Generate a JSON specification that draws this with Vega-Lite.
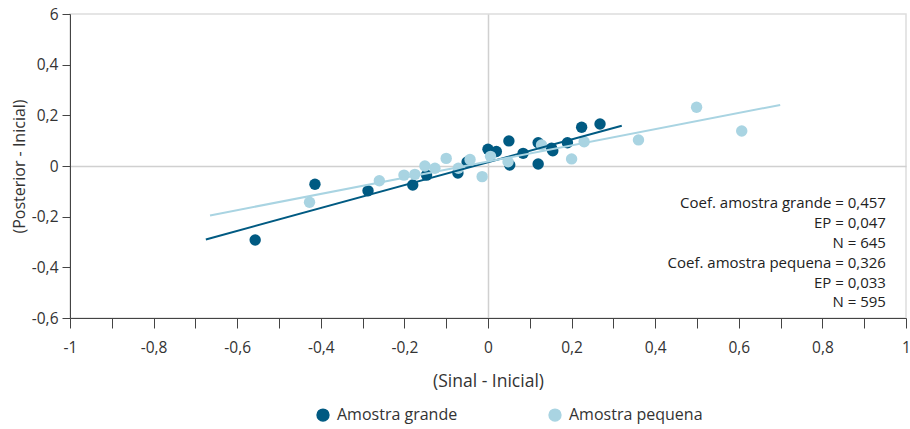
{
  "$schema": "https://vega.github.io/schema/vega-lite/v6.json",
  "width": 836,
  "height": 304,
  "autosize": {"type": "none"},
  "padding": {"left": 70, "top": 14, "right": 4, "bottom": 111},
  "config": {
    "font": "Open Sans",
    "view": {"stroke": "#dddddd", "strokeWidth": 1.5},
    "axis": {
      "domainColor": "#444444",
      "tickColor": "#444444",
      "labelColor": "#333333",
      "titleColor": "#333333",
      "labelFontSize": 15.5,
      "titleFontSize": 16,
      "titleFontWeight": "normal",
      "gridColor": "#d0d0d0",
      "gridWidth": 1.5
    }
  },
  "datasets": {
    "pts": [
      {"x": -0.557, "y": -0.292, "g": "Amostra grande"},
      {"x": -0.414, "y": -0.072, "g": "Amostra grande"},
      {"x": -0.287, "y": -0.098, "g": "Amostra grande"},
      {"x": -0.18, "y": -0.075, "g": "Amostra grande"},
      {"x": -0.147, "y": -0.036, "g": "Amostra grande"},
      {"x": -0.072, "y": -0.028, "g": "Amostra grande"},
      {"x": -0.05, "y": 0.016, "g": "Amostra grande"},
      {"x": 0.0, "y": 0.066, "g": "Amostra grande"},
      {"x": 0.02, "y": 0.057, "g": "Amostra grande"},
      {"x": 0.05, "y": 0.099, "g": "Amostra grande"},
      {"x": 0.052, "y": 0.004, "g": "Amostra grande"},
      {"x": 0.084, "y": 0.05, "g": "Amostra grande"},
      {"x": 0.12, "y": 0.092, "g": "Amostra grande"},
      {"x": 0.12, "y": 0.008, "g": "Amostra grande"},
      {"x": 0.152, "y": 0.07, "g": "Amostra grande"},
      {"x": 0.155, "y": 0.06, "g": "Amostra grande"},
      {"x": 0.19, "y": 0.092, "g": "Amostra grande"},
      {"x": 0.224, "y": 0.153, "g": "Amostra grande"},
      {"x": 0.268, "y": 0.166, "g": "Amostra grande"},
      {"x": -0.427, "y": -0.143, "g": "Amostra pequena"},
      {"x": -0.26, "y": -0.058, "g": "Amostra pequena"},
      {"x": -0.201, "y": -0.036, "g": "Amostra pequena"},
      {"x": -0.175, "y": -0.033, "g": "Amostra pequena"},
      {"x": -0.151, "y": 0.0, "g": "Amostra pequena"},
      {"x": -0.127, "y": -0.009, "g": "Amostra pequena"},
      {"x": -0.1, "y": 0.03, "g": "Amostra pequena"},
      {"x": -0.071, "y": -0.009, "g": "Amostra pequena"},
      {"x": -0.043, "y": 0.026, "g": "Amostra pequena"},
      {"x": -0.014, "y": -0.042, "g": "Amostra pequena"},
      {"x": 0.006, "y": 0.038, "g": "Amostra pequena"},
      {"x": 0.048, "y": 0.017, "g": "Amostra pequena"},
      {"x": 0.128, "y": 0.083, "g": "Amostra pequena"},
      {"x": 0.2, "y": 0.028, "g": "Amostra pequena"},
      {"x": 0.23, "y": 0.096, "g": "Amostra pequena"},
      {"x": 0.36, "y": 0.103, "g": "Amostra pequena"},
      {"x": 0.499, "y": 0.232, "g": "Amostra pequena"},
      {"x": 0.607, "y": 0.138, "g": "Amostra pequena"}
    ],
    "fit": [
      {"x": -0.675, "y": -0.29, "g": "Amostra grande"},
      {"x": 0.32, "y": 0.159, "g": "Amostra grande"},
      {"x": -0.665, "y": -0.195, "g": "Amostra pequena"},
      {"x": 0.699, "y": 0.241, "g": "Amostra pequena"}
    ],
    "notes": [
      {"x": 0.952, "y": -0.146, "t": "Coef. amostra grande = 0,457"},
      {"x": 0.952, "y": -0.226, "t": "EP = 0,047"},
      {"x": 0.952, "y": -0.302, "t": "N = 645"},
      {"x": 0.952, "y": -0.382, "t": "Coef. amostra pequena = 0,326"},
      {"x": 0.952, "y": -0.462, "t": "EP = 0,033"},
      {"x": 0.952, "y": -0.538, "t": "N = 595"}
    ]
  },
  "layer": [
    {
      "data": {"name": "pts"},
      "mark": {"type": "point", "filled": true, "shape": "circle", "size": 130, "opacity": 1},
      "encoding": {
        "x": {
          "field": "x", "type": "quantitative",
          "scale": {"domain": [-1, 1], "nice": false, "zero": false},
          "axis": {
            "title": "(Sinal - Inicial)",
            "titleFontSize": 17.5,
            "values": [-1, -0.9, -0.8, -0.7, -0.6, -0.5, -0.4, -0.3, -0.2, -0.1, 0, 0.1, 0.2, 0.3, 0.4, 0.5, 0.6, 0.7, 0.8, 0.9, 1],
            "labelExpr": "round(abs(datum.value) * 10) % 2 == 0 ? (datum.value < 0 ? '-' : '') + replace(toString(abs(datum.value)), '.', ',') : ''",
            "tickSize": 10,
            "labelPadding": 12,
            "titlePadding": 17,
            "labelFlush": false,
            "grid": true,
            "gridOpacity": {"condition": {"test": "datum.value === 0", "value": 1}, "value": 0}
          }
        },
        "y": {
          "field": "y", "type": "quantitative",
          "scale": {"domain": [-0.6, 0.6], "nice": false, "zero": false},
          "axis": {
            "title": "(Posterior - Inicial)",
            "values": [-0.6, -0.4, -0.2, 0, 0.2, 0.4, 0.6],
            "labelExpr": "datum.value == 0.6 ? '6' : (datum.value < 0 ? '-' : '') + replace(toString(abs(datum.value)), '.', ',')",
            "tickSize": 8,
            "labelPadding": 4,
            "titlePadding": 4,
            "labelFlush": false,
            "grid": true,
            "gridOpacity": {"condition": {"test": "datum.value === 0", "value": 1}, "value": 0}
          }
        },
        "color": {
          "field": "g", "type": "nominal",
          "scale": {"domain": ["Amostra grande", "Amostra pequena"], "range": ["#005a82", "#a9d4e2"]},
          "legend": {
            "title": null,
            "orient": "none",
            "legendX": 245,
            "legendY": 393,
            "direction": "horizontal",
            "labelFontSize": 16,
            "labelColor": "#333333",
            "symbolSize": 140,
            "symbolType": "circle",
            "columnPadding": 88,
            "labelOffset": 6
          }
        }
      }
    },
    {
      "data": {"name": "fit"},
      "mark": {"type": "line", "strokeWidth": 2},
      "encoding": {
        "x": {"field": "x", "type": "quantitative"},
        "y": {"field": "y", "type": "quantitative"},
        "detail": {"field": "g", "type": "nominal"},
        "stroke": {
          "field": "g", "type": "nominal",
          "scale": {"domain": ["Amostra grande", "Amostra pequena"], "range": ["#005a82", "#a9d4e2"]},
          "legend": null
        }
      }
    },
    {
      "data": {"name": "notes"},
      "mark": {"type": "text", "align": "right", "baseline": "middle", "fontSize": 15, "color": "#222222"},
      "encoding": {
        "x": {"field": "x", "type": "quantitative"},
        "y": {"field": "y", "type": "quantitative"},
        "text": {"field": "t", "type": "nominal"}
      }
    }
  ]
}
